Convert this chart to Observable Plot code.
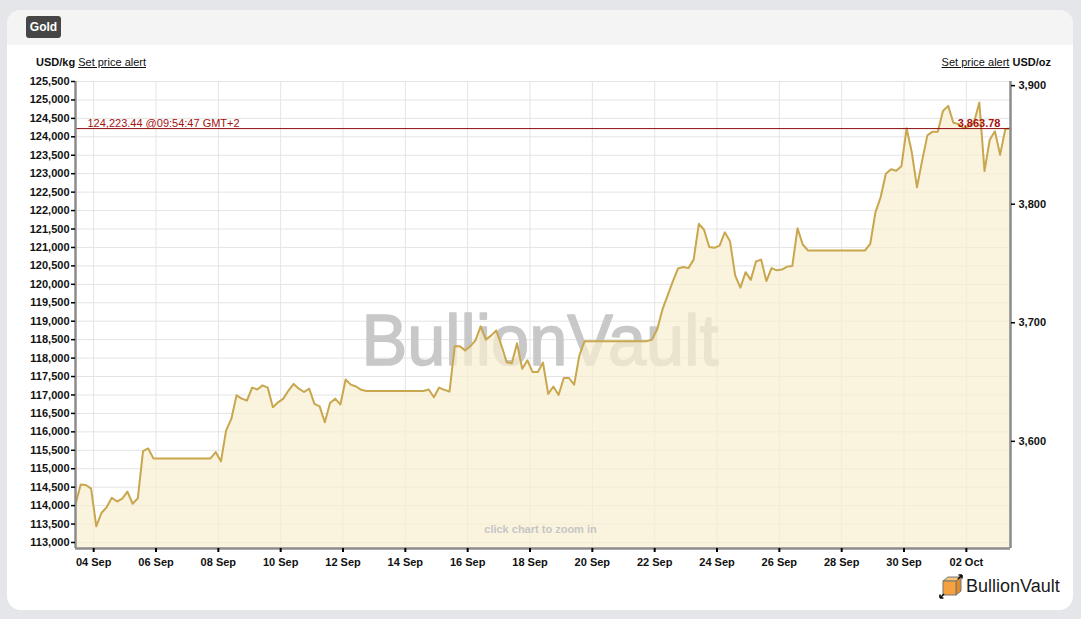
<!DOCTYPE html>
<html>
<head>
<meta charset="utf-8">
<script src="https://cdn.jsdelivr.net/npm/d3@7"></script>
<script src="https://cdn.jsdelivr.net/npm/@observablehq/plot@0.6"></script>
<style>
  html, body { margin:0; padding:0; width:1081px; height:619px; overflow:hidden; background:#e5e6e9;
    font-family:"Liberation Sans", Arial, sans-serif; }
  #card { position:absolute; left:7px; top:10px; width:1066px; height:600px; background:#fff; border-radius:14px; overflow:hidden; }
  #hdr { position:absolute; left:0; top:0; width:100%; height:35px; background:#f4f4f4; }
  #gold { position:absolute; left:19px; top:6px; width:35px; height:22px; background:#464646; border-radius:3px;
    color:#fff; font-weight:bold; font-size:12px; line-height:22px; text-align:center; }
  .lbl { position:absolute; top:56px; font-size:11px; line-height:13px; color:#111; white-space:nowrap; }
  .lbl b { font-weight:bold; }
  .lbl u { text-decoration:underline; }
  #chart { position:absolute; left:0; top:50px; }
  #logo { position:absolute; left:938px; top:574px; height:26px; }
  #logotext { position:absolute; left:966px; top:576px; font-size:18px; line-height:21px; color:#1a1a1a; }
</style>
</head>
<body>
<div id="card"><div id="hdr"><div id="gold">Gold</div></div></div>
<div class="lbl" style="left:36px;"><b>USD/kg</b> <u>Set price alert</u></div>
<div class="lbl" style="right:30px;"><u>Set price alert</u> <b>USD/oz</b></div>
<div id="chart"></div>
<svg id="logo" width="26" height="26" viewBox="0 0 26 26">
  <polygon points="5,7 10,3 23,3 18,7" fill="#f7c57a" stroke="#777" stroke-width="1"/>
  <polygon points="18,7 23,3 23,17 18,21" fill="#e28a24" stroke="#777" stroke-width="1"/>
  <rect x="5" y="7" width="13" height="14" fill="#f3a23f" stroke="#777" stroke-width="1"/>
  <path d="M2 24 L6 20 M2 24 L2 20.5 M2 24 L5.5 24 M24 1 L20 5 M24 1 L24 4.5 M24 1 L20.5 1" stroke="#111" stroke-width="1.6" fill="none"/>
</svg>
<div id="logotext">BullionVault</div>
<script>
// ---- data ----
const startTime = "2025-09-03T10:00:00Z";   // first sample
const endTime = "2025-10-03T10:00:00Z";     // last sample (now)
const stepHours = 4;                        // sampling interval of the series
// USD/kg gold price, one value per 4 hours
const priceKg = [
  114030, 114570, 114560, 114460, 113440, 113800,
  113960, 114210, 114110, 114190, 114380, 114050,
  114200, 115480, 115550, 115280, 115280, 115280,
  115280, 115280, 115280, 115280, 115280, 115280,
  115280, 115280, 115280, 115450, 115200, 116040,
  116350, 116990, 116900, 116850, 117200, 117150,
  117260, 117200, 116670, 116800, 116900, 117120,
  117300, 117170, 117080, 117170, 116760, 116690,
  116260, 116780, 116900, 116740, 117420, 117280,
  117230, 117140, 117110, 117110, 117110, 117110,
  117110, 117110, 117110, 117110, 117110, 117110,
  117110, 117110, 117150, 116940, 117200, 117140,
  117090, 118320, 118320, 118210, 118320, 118480,
  118860, 118500, 118610, 118750, 118340, 117890,
  117860, 118400, 117710, 117940, 117620, 117620,
  117880, 117030, 117230, 117000, 117460, 117460,
  117280, 118070, 118460, 118460, 118460, 118460,
  118460, 118460, 118460, 118460, 118460, 118460,
  118460, 118460, 118460, 118500, 118790, 119320,
  119700, 120080, 120430, 120470, 120440, 120670,
  121640, 121480, 121010, 120990, 121050, 121410,
  121170, 120240, 119910, 120330, 120120, 120620,
  120670, 120090, 120440, 120380, 120400, 120480,
  120500, 121520, 121080, 120920, 120920, 120920,
  120920, 120920, 120920, 120920, 120920, 120920,
  120920, 120920, 120920, 121100, 121950, 122360,
  123000, 123120, 123080, 123200, 124230, 123580,
  122630, 123360, 124040, 124140, 124140, 124700,
  124840, 124380, 124350, 124230, 124290, 124400,
  124930, 123070, 123920, 124150, 123510, 124210,
  124223.44
];
const currentPrice = 124223.44;
const currentPriceOz = 3863.78;
const currentStamp = "09:54:47 GMT+2";
const ozPerKg = 32.1507466;
const kgTicks = [113000, 113500, 114000, 114500, 115000, 115500, 116000, 116500, 117000, 117500,
  118000, 118500, 119000, 119500, 120000, 120500, 121000, 121500, 122000, 122500,
  123000, 123500, 124000, 124500, 125000, 125500];
const ozTicks = [3600, 3700, 3800, 3900];
const dateTicks = ["2025-09-04", "2025-09-06", "2025-09-08", "2025-09-10", "2025-09-12", "2025-09-14",
  "2025-09-16", "2025-09-18", "2025-09-20", "2025-09-22", "2025-09-24", "2025-09-26",
  "2025-09-28", "2025-09-30", "2025-10-02"];
const yLow = 112837, yHigh = 125500;

// ---- table ----
const t0 = new Date(startTime).getTime();
const data = priceKg.map((v, i) => ({t: new Date(t0 + i * stepHours * 3600e3), v}));
const xStart = new Date(startTime), xEnd = new Date(endTime);
const fmtInt = d3.format(",");

const plot = Plot.plot({
  width: 1081, height: 540,
  marginTop: 31, marginBottom: 42, marginLeft: 75, marginRight: 71,
  style: {background: "transparent", fontFamily: "'Liberation Sans', Arial, sans-serif",
          fontSize: "11px", fontWeight: "bold", color: "#111", overflow: "visible"},
  x: {type: "utc", domain: [xStart, xEnd]},
  y: {domain: [yLow, yHigh]},
  marks: [
    Plot.gridY(kgTicks, {stroke: "#e4e4e4", strokeOpacity: 1}),
    Plot.gridX(dateTicks.map(d => new Date(d)), {stroke: "#e4e4e4", strokeOpacity: 1}),
    Plot.text(["BullionVault"], {frameAnchor: "middle", dx: -3, dy: 50, lineAnchor: "bottom",
      fontSize: 73, fontWeight: "normal", fill: "#c8c8c8", stroke: "#c8c8c8", strokeWidth: 1.6}),
    Plot.areaY(data, {x: "t", y1: yLow, y2: "v", fill: "#f8eed0", fillOpacity: 0.7, curve: "linear"}),
    Plot.text(["click chart to zoom in"], {frameAnchor: "bottom", dx: -2.5, dy: -16, lineAnchor: "bottom",
      fontSize: 11, fontWeight: "bold", fill: "#c6c6c6"}),
    Plot.lineY(data, {x: "t", y: "v", stroke: "#c8a74e", strokeWidth: 2}),
    Plot.ruleY([currentPrice], {stroke: "#8e0f0f", strokeWidth: 1}),
    Plot.text([currentPrice], {y: d => d, frameAnchor: "left", dx: 12, dy: -2, lineAnchor: "bottom",
      textAnchor: "start", fill: "#a51010", fontWeight: "normal",
      text: d => `${d3.format(",.2f")(d)} @${currentStamp}`}),
    Plot.text([currentPriceOz], {y: () => currentPrice, frameAnchor: "right", dx: -10, dy: -2, lineAnchor: "bottom",
      textAnchor: "end", fill: "#a51010", fontWeight: "bold", text: d => d3.format(",.2f")(d)}),
    Plot.ruleX([xStart], {stroke: "#8c8c8c", strokeWidth: 2.5}),
    Plot.ruleX([xEnd], {stroke: "#8c8c8c", strokeWidth: 2.5}),
    Plot.ruleY([yLow], {stroke: "#8c8c8c", strokeWidth: 2.5}),
    Plot.axisY(kgTicks, {anchor: "left", tickSize: 4, tickPadding: 2, tickFormat: fmtInt, label: null,
      stroke: "#000", strokeWidth: 1.5}),
    Plot.axisY(ozTicks.map(v => v * ozPerKg), {anchor: "right", tickSize: 4, tickPadding: 4, label: null,
      tickFormat: d => fmtInt(Math.round(d / ozPerKg)), stroke: "#000", strokeWidth: 1.5}),
    Plot.axisX(dateTicks.map(d => new Date(d)), {anchor: "bottom", tickSize: 4, tickPadding: 6, label: null,
      tickFormat: d3.utcFormat("%d %b"), stroke: "#000", strokeWidth: 2})
  ]
});
document.getElementById("chart").appendChild(plot);
// stretch the watermark to its width in the original
d3.select(plot).selectAll("text").filter(function() { return this.textContent === "BullionVault"; })
  .attr("textLength", 357).attr("lengthAdjust", "spacingAndGlyphs");
</script>
</body>
</html>
